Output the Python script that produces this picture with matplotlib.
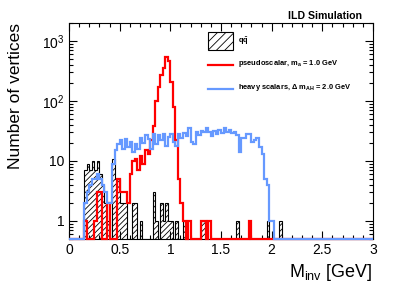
import numpy as np
import matplotlib
matplotlib.use('Agg')
import matplotlib.pyplot as plt
from matplotlib.patches import Rectangle
from matplotlib.lines import Line2D
from matplotlib.ticker import MultipleLocator, FuncFormatter, LogLocator, NullFormatter

plt.rcParams['font.family'] = ['Liberation Sans', 'DejaVu Sans']
plt.rcParams['mathtext.fontset'] = 'custom'
plt.rcParams['mathtext.rm'] = 'Liberation Sans'
plt.rcParams['mathtext.it'] = 'Liberation Sans:italic'
plt.rcParams['mathtext.bf'] = 'Liberation Sans:bold'
plt.rcParams['mathtext.default'] = 'regular'
plt.rcParams['hatch.linewidth'] = 0.6

# binning: 120 bins of 0.025 GeV between 0 and 3 GeV
x_min, x_max, n_bins = 0.0, 3.0, 120

# counts per bin, 10 bins (0.25 GeV) per row
qqbar = [0, 0, 0, 0, 0, 0, 7, 9, 7, 10,
         7, 10, 6, 4, 2, 1, 0, 11, 5, 5,
         2, 2, 2, 0, 0, 2, 2, 0, 1, 0,
         0, 0, 0, 3, 1, 0, 2, 1, 2, 1,
         1, 0, 1, 0, 0, 1, 0, 0, 0, 0,
         0, 0, 1, 1, 0, 0, 0, 0, 0, 0,
         0, 0, 0, 0, 0, 0, 1, 0, 0, 0,
         0, 0, 0, 0, 0, 0, 0, 0, 1, 0,
         0, 0, 0, 1, 0, 0, 0, 0, 0, 0,
         0, 0, 0, 0, 0, 0, 0, 0, 0, 0,
         0, 0, 0, 0, 0, 0, 0, 0, 0, 0,
         0, 0, 0, 0, 0, 0, 0, 0, 0, 0]

pseudoscalar = [0, 0, 0, 0, 0, 0, 1, 0, 0, 0,
                1, 3, 3, 0, 0, 2, 0, 0, 0, 5,
                3, 3, 3, 2, 6, 10, 11, 7, 12, 9,
                15, 13, 22, 38, 100, 170, 270, 360, 540, 460,
                210, 78, 22, 5, 2, 1, 0, 1, 0, 0,
                0, 0, 1, 1, 0, 1, 0, 0, 0, 0,
                0, 0, 0, 0, 0, 0, 0, 0, 0, 0,
                0, 1, 0, 0, 0, 0, 0, 0, 0, 0,
                0, 0, 0, 0, 0, 0, 0, 0, 0, 0,
                0, 0, 0, 0, 0, 0, 0, 0, 0, 0,
                0, 0, 0, 0, 0, 0, 0, 0, 0, 0,
                0, 0, 0, 0, 0, 0, 0, 0, 0, 0]

heavy_scalars = [0, 0, 0, 0, 0, 0, 2, 3, 4, 5,
                 5, 6, 5, 4, 3, 2, 2, 9, 15, 19,
                 22, 16, 23, 17, 21, 14, 19, 16, 24, 20,
                 27, 23, 16, 28, 19, 27, 22, 28, 18, 25,
                 28, 21, 18, 28, 24, 29, 26, 35, 21, 19,
                 30, 27, 32, 31, 36, 31, 26, 32, 28, 33,
                 29, 35, 31, 33, 29, 31, 27, 14, 24, 24,
                 28, 28, 21, 22, 24, 17, 13, 5, 4, 1,
                 1, 0, 0, 0, 0, 0, 0, 0, 0, 0,
                 0, 0, 0, 0, 0, 0, 0, 0, 0, 0,
                 0, 0, 0, 0, 0, 0, 0, 0, 0, 0,
                 0, 0, 0, 0, 0, 0, 0, 0, 0, 0]

labels = ['q$\\mathbf{\\bar{q}}$',
          'pseudoscalar, m$_{\\mathbf{a}}$ = 1.0 GeV',
          'heavy scalars, \u0394 m$_{\\mathbf{AH}}$ = 2.0 GeV']

y_min, y_max = 0.5, 2000
red = '#ff0000'
blue = '#6699ff'

edges = np.linspace(x_min, x_max, n_bins + 1)


def floor_zero(counts):
    c = np.asarray(counts, dtype=float)
    return np.where(c > 0, c, y_min)


fig = plt.figure(figsize=(4.07, 2.92), dpi=100)
ax = fig.add_axes([69 / 407, 1 - 239 / 292, 304 / 407, 216 / 292])
ax.set_yscale('log')

ax.stairs(floor_zero(qqbar), edges, baseline=y_min, fill=True,
          facecolor='none', edgecolor='black', hatch='//////', lw=0.8, zorder=2)
ax.stairs(floor_zero(pseudoscalar), edges, baseline=y_min, color=red,
          lw=1.6, clip_on=False, zorder=3)
ax.stairs(floor_zero(heavy_scalars), edges, baseline=y_min, color=blue,
          lw=1.6, clip_on=False, zorder=4)

ax.set_xlim(x_min, x_max)
ax.set_ylim(y_min, y_max)

ax.xaxis.set_major_locator(MultipleLocator(0.5))
ax.xaxis.set_minor_locator(MultipleLocator(0.1))
ax.xaxis.set_major_formatter(FuncFormatter(lambda v, p: '%g' % v))
ax.yaxis.set_major_locator(LogLocator(base=10))
ax.yaxis.set_minor_locator(LogLocator(base=10, subs=np.arange(2, 10)))
ax.yaxis.set_minor_formatter(NullFormatter())


def ylab(v, p):
    if v < 5:
        return '1'
    if v < 50:
        return '10'
    return '$10^{%d}$' % round(np.log10(v))


ax.yaxis.set_major_formatter(FuncFormatter(ylab))
ax.tick_params(which='both', direction='in', top=True, right=True,
               labelsize=10, width=0.8)
ax.tick_params(which='major', length=6, pad=3)
ax.tick_params(which='minor', length=3)
for s in ax.spines.values():
    s.set_linewidth(0.8)

ax.set_ylabel('Number of vertices', loc='top', fontsize=12.5)
ax.yaxis.set_label_coords(-0.15, 1.0)
ax.set_xlabel('M$_{inv}$ [GeV]', loc='right', fontsize=13)
ax.xaxis.set_label_coords(1.0, -0.105)

fig.text(362 / 407, 1 - 16 / 292, 'ILD Simulation', ha='right', va='center',
         fontweight='bold', fontsize=7.6)

# legend drawn by hand, ROOT style
ax.add_patch(Rectangle((0.457, 0.875), 0.082, 0.083, transform=ax.transAxes,
                       facecolor='none', edgecolor='black', hatch='////',
                       lw=0.8, clip_on=False))
ax.add_line(Line2D([0.457, 0.539], [0.806, 0.806], transform=ax.transAxes,
                   color=red, lw=1.6))
ax.add_line(Line2D([0.457, 0.539], [0.694, 0.694], transform=ax.transAxes,
                   color=blue, lw=1.6))
for y, lab in zip([0.917, 0.812, 0.700], labels):
    ax.text(0.555, y, lab, transform=ax.transAxes, fontsize=5.4,
            fontweight='bold', va='center', ha='left')

fig.savefig('out.png', dpi=100)
